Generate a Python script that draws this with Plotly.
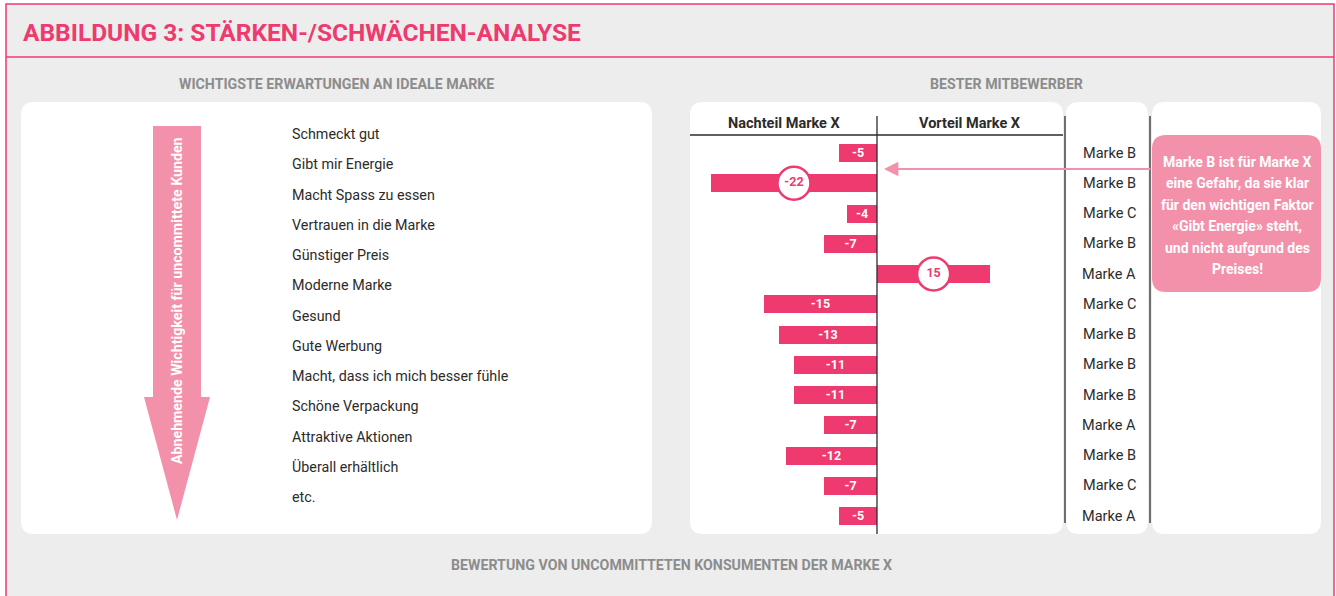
import plotly.graph_objects as go

# ---------------- data ----------------
expectations = ["Schmeckt gut", "Gibt mir Energie", "Macht Spass zu essen", "Vertrauen in die Marke",
                "Günstiger Preis", "Moderne Marke", "Gesund", "Gute Werbung",
                "Macht, dass ich mich besser fühle", "Schöne Verpackung", "Attraktive Aktionen",
                "Überall erhältlich", "etc."]
values = [-5, -22, -4, -7, 15, -15, -13, -11, -11, -7, -12, -7, -5]
competitors = ["Marke B", "Marke B", "Marke C", "Marke B", "Marke A", "Marke C", "Marke B",
               "Marke B", "Marke B", "Marke A", "Marke B", "Marke C", "Marke A"]
highlighted = [False, True, False, False, True, False, False, False, False, False, False, False, False]

title = "ABBILDUNG 3: STÄRKEN-/SCHWÄCHEN-ANALYSE"
left_header = "WICHTIGSTE ERWARTUNGEN AN IDEALE MARKE"
right_header = "BESTER MITBEWERBER"
footer = "BEWERTUNG VON UNCOMMITTETEN KONSUMENTEN DER MARKE X"
col_neg = "Nachteil Marke X"
col_pos = "Vorteil Marke X"
arrow_label = "Abnehmende Wichtigkeit für uncommittete Kunden"
note_lines = ["Marke B ist für Marke X", "eine Gefahr, da sie klar", "für den wichtigen Faktor",
              "«Gibt Energie» steht,", "und nicht aufgrund des", "Preises!"]

# ---------------- style ----------------
W, H = 1336, 596
FONT = "Roboto, Liberation Sans, sans-serif"
PINK = "#EE3A6E"
LIGHT_PINK = "#F391AB"
GRAY_BG = "#EDEDED"
GRAY_TXT = "#8C8C8C"
DARK = "#2B2B2B"


def px(x):
    return x / W


def py(y):
    return 1 - y / H


def rrect(x0, y0, x1, y1, r):
    pts = [
        ("M", [(x0 + r, y0)]), ("L", [(x1 - r, y0)]), ("Q", [(x1, y0), (x1, y0 + r)]),
        ("L", [(x1, y1 - r)]), ("Q", [(x1, y1), (x1 - r, y1)]), ("L", [(x0 + r, y1)]),
        ("Q", [(x0, y1), (x0, y1 - r)]), ("L", [(x0, y0 + r)]), ("Q", [(x0, y0), (x0 + r, y0)]),
    ]
    s = ""
    for cmd, p in pts:
        s += cmd + " " + " ".join(f"{px(a):.6f},{py(b):.6f}" for a, b in p) + " "
    return s + "Z"


def poly(points):
    return "M " + " L ".join(f"{px(a):.6f},{py(b):.6f}" for a, b in points) + " Z"


def txt(text, x, y, size, color, bold=False, **kw):
    d = dict(text=text, x=x, y=y, xref="paper", yref="paper", xanchor="center", yanchor="middle",
             showarrow=False, font=dict(family=FONT, size=size, color=color, weight="bold" if bold else "normal"))
    d.update(kw)
    return d


fig = go.Figure()

# bars
bar_text = ["" if h else str(v) for v, h in zip(values, highlighted)]
fig.add_trace(go.Bar(
    x=values, y=expectations, orientation="h", width=0.6,
    marker=dict(color=PINK, line=dict(width=0)),
    text=bar_text, textposition="inside", insidetextanchor="middle", textangle=0,
    textfont=dict(family=FONT, size=12.5, color="white", weight="bold"),
    constraintext="none", showlegend=False, hoverinfo="skip",
))

# circled highlight labels
hx = [v / 2 for v, h in zip(values, highlighted) if h]
hy = [e for e, h in zip(expectations, highlighted) if h]
ht = [str(v) for v, h in zip(values, highlighted) if h]
fig.add_trace(go.Scatter(
    x=hx, y=hy, mode="markers+text", text=ht, textposition="middle center",
    marker=dict(size=33, color="white", line=dict(color=PINK, width=2.5)),
    textfont=dict(family=FONT, size=12.5, color=PINK, weight="bold"),
    showlegend=False, hoverinfo="skip",
))

shapes = []
# outer frame
shapes.append(dict(type="rect", xref="paper", yref="paper", x0=px(6), x1=px(1334), y0=py(640), y1=py(4),
                   fillcolor=GRAY_BG, line=dict(color=PINK, width=1.5), layer="below"))
shapes.append(dict(type="line", xref="paper", yref="paper", x0=px(6), x1=px(1334), y0=py(57), y1=py(57),
                   line=dict(color=PINK, width=1.5), layer="below"))
# white panels
for (a, b, c, d) in [(21, 102, 652, 534), (690, 102, 1063, 534), (1066, 102, 1148, 534), (1152, 102, 1321, 534)]:
    shapes.append(dict(type="path", xref="paper", yref="paper", path=rrect(a, b, c, d, 13),
                       fillcolor="white", line=dict(width=0), layer="below"))
# note box
shapes.append(dict(type="path", xref="paper", yref="paper", path=rrect(1152, 135, 1321, 292, 14),
                   fillcolor=LIGHT_PINK, line=dict(width=0), layer="above"))
# big down arrow
shapes.append(dict(type="path", xref="paper", yref="paper",
                   path=poly([(153, 126), (201, 126), (201, 397), (210, 397), (177, 520), (144, 397), (153, 397)]),
                   fillcolor=LIGHT_PINK, line=dict(width=0), layer="below"))
# header line and separators
shapes.append(dict(type="line", xref="paper", yref="paper", x0=px(690), x1=px(1063), y0=py(135), y1=py(135),
                   line=dict(color=DARK, width=1.3)))
shapes.append(dict(type="line", xref="x", yref="paper", x0=0, x1=0, y0=py(534), y1=py(116),
                   line=dict(color=DARK, width=1.3)))
for xx in (1065, 1150):
    shapes.append(dict(type="line", xref="paper", yref="paper", x0=px(xx), x1=px(xx), y0=py(523), y1=py(116),
                       line=dict(color=DARK, width=1.3)))

ann = []
ann.append(txt(title, px(21), py(33), 24.5, PINK, True, xanchor="left"))
for t, x, y in [(left_header, 337, 84), (right_header, 1006, 84), (footer, 671, 565)]:
    ann.append(txt(t, px(x), py(y), 14.2, GRAY_TXT, True))
for t, x in [(col_neg, 784), (col_pos, 970)]:
    ann.append(txt(t, px(x), py(123), 14.5, DARK, True))
# expectation list (left panel)
for e in expectations:
    ann.append(txt(e, px(290), e, 14.3, DARK, xanchor="left", yref="y", yshift=19))
# competitor labels
for e, c in zip(expectations, competitors):
    ann.append(txt(c, px(1109), e, 14.5, DARK, yref="y"))
# rotated arrow text
ann.append(txt(arrow_label, px(177), py(301), 14.2, "white", True, textangle=-90))
# note text
for i, t in enumerate(note_lines):
    ann.append(txt(t, px(1237), py(162 + i * 21.4), 14, "white", True))
# pointer arrow
ann.append(dict(text="", x=px(884), y=py(169), xref="paper", yref="paper", ax=268, ay=0,
                showarrow=True, arrowhead=2, arrowsize=1.6, arrowwidth=1.8, arrowcolor=LIGHT_PINK))

fig.update_layout(
    width=W, height=H, margin=dict(l=0, r=0, t=0, b=0),
    paper_bgcolor="white", plot_bgcolor="rgba(0,0,0,0)",
    xaxis=dict(domain=[px(690), px(1063)], range=[-24.77, 24.64], visible=False, fixedrange=True),
    yaxis=dict(domain=[py(516 + 15.125), py(153 - 15.125)], type="category", categoryorder="array",
               categoryarray=expectations, range=[12.5, -0.5], visible=False, fixedrange=True),
    shapes=shapes, annotations=ann, bargap=0, showlegend=False,
)

fig.write_html("out.html", config={"displayModeBar": False},
               post_script="document.body.style.margin='0';document.body.style.overflow='hidden';")
